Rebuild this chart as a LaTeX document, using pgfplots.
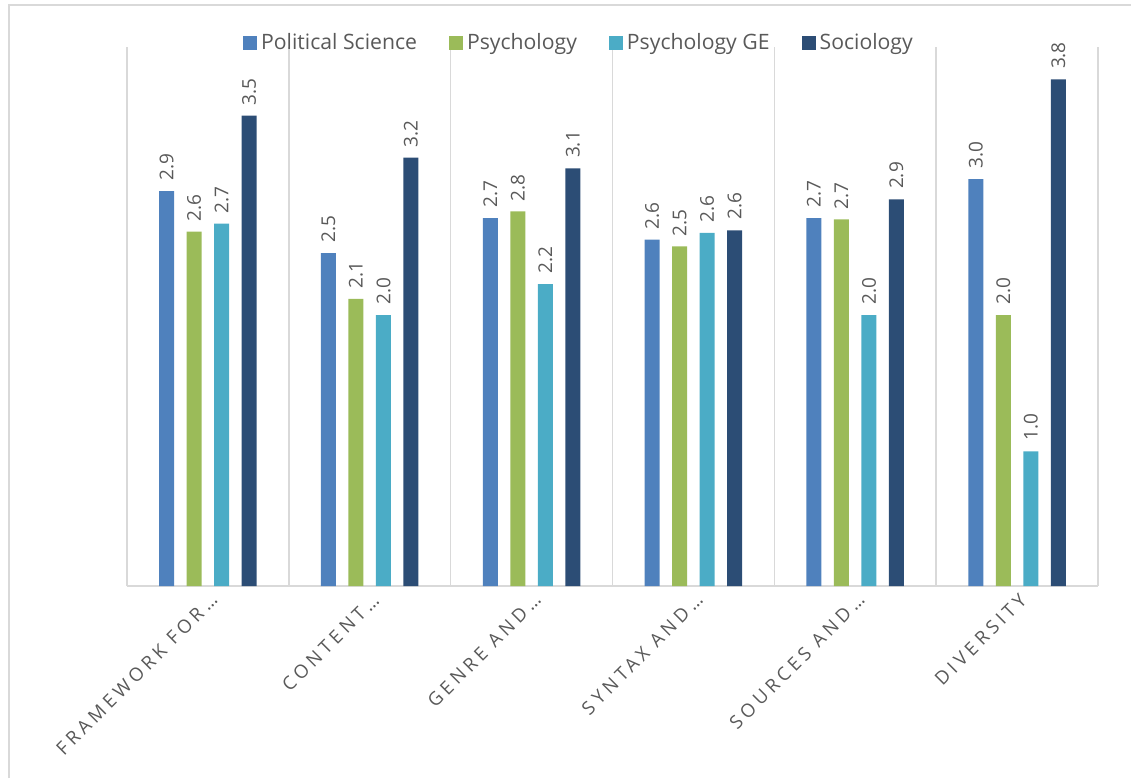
\documentclass[border=0pt]{standalone}
\usepackage{fontspec}
\setmainfont{Open Sans}
\newfontfamily\ticklbl[LetterSpace=22]{Open Sans}
\usepackage{pgfplots}
\pgfplotsset{compat=1.18}
\definecolor{cpol}{HTML}{4F81BD}
\definecolor{cpsy}{HTML}{9BBB59}
\definecolor{cge}{HTML}{4BACC6}
\definecolor{csoc}{HTML}{2C4D75}
\definecolor{lbl}{HTML}{595959}
\definecolor{gridc}{HTML}{D9D9D9}
\begin{document}
\begin{tikzpicture}
\useasboundingbox (0,0) rectangle (565.5pt,389pt);
\draw[gridc, line width=1pt] (4.25pt,0) -- (4.25pt,386.5pt) -- (565.5pt,386.5pt);
\begin{axis}[
  at={(63.5pt,96pt)}, anchor=south west,
  scale only axis, width=485.5pt, height=269.5pt,
  ybar=6.25pt, bar width=7.5pt,
  ymin=0, ymax=4, xmin=-0.5, xmax=5.5,
  axis y line=none, axis x line*=bottom,
  x axis line style={draw=gridc, line width=1pt},
  ytick=\empty,
  xtick={0,1,2,3,4,5},
  xticklabels={FRAMEWORK FOR…,CONTENT…,GENRE AND…,SYNTAX AND…,SOURCES AND…,DIVERSITY},
  minor xtick={-0.5,0.5,1.5,2.5,3.5,4.5,5.5},
  xminorgrids, minor grid style={draw=gridc, line width=0.75pt},
  major tick length=0pt, minor tick length=0pt,
  xticklabel style={xshift=5.5pt, yshift=-3pt, rotate=45, anchor=east, font=\ticklbl\fontsize{9.3}{10}\selectfont, text=lbl},
  /pgf/number format/assume math mode=true,
  nodes near coords={\pgfmathprintnumber[fixed,fixed zerofill,precision=1]{\pgfplotspointmeta}},
  every node near coord/.append style={rotate=90, anchor=west, font=\fontsize{9.5}{10}\selectfont, text=lbl, inner xsep=5pt},
  legend columns=4,
  legend style={at={(0.4665,1.0)}, anchor=center, yshift=2pt, draw=none, fill=none,
    font=\fontsize{10.6}{12}\selectfont, text=lbl,
    /tikz/every even column/.append style={column sep=14pt}},
  legsq/.style={legend image code/.code={\fill[##1] (0pt,-3.5pt) rectangle (7pt,3.5pt);}},
]
\addplot[fill=cpol, draw=none, legsq] coordinates {(0,2.93) (1,2.47) (2,2.73) (3,2.57) (4,2.73) (5,3.02)};
\addplot[fill=cpsy, draw=none, legsq] coordinates {(0,2.63) (1,2.13) (2,2.78) (3,2.52) (4,2.72) (5,2.01)};
\addplot[fill=cge, draw=none, legsq] coordinates {(0,2.69) (1,2.01) (2,2.24) (3,2.62) (4,2.01) (5,1.00)};
\addplot[fill=csoc, draw=none, legsq] coordinates {(0,3.49) (1,3.18) (2,3.10) (3,2.64) (4,2.87) (5,3.76)};
\legend{Political Science,Psychology,Psychology GE,Sociology}
\end{axis}
\end{tikzpicture}
\end{document}
